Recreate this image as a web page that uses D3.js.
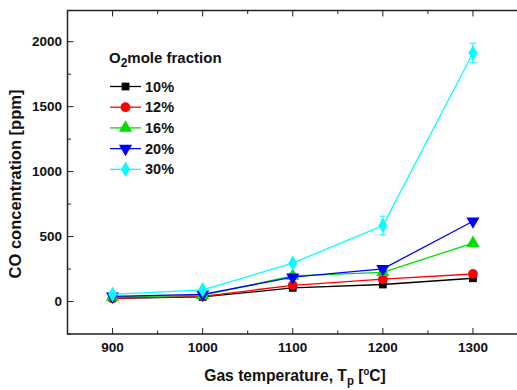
<!DOCTYPE html>
<html>
<head>
<meta charset="utf-8">
<script src="https://cdn.jsdelivr.net/npm/d3@7"></script>
<style>
  body { margin: 0; background: #fff; }
  text { font-family: "Liberation Sans", Arial, sans-serif; font-weight: bold; }
</style>
</head>
<body>
<div id="chart"></div>
<script>
const temperatures = [900, 1000, 1100, 1200, 1300];
const seriesNames = ["10%", "12%", "16%", "20%", "30%"];
const co10 = [25, 35, 105, 131, 179];
const co12 = [25, 40, 125, 172, 212];
const co16 = [35, 48, 197, 225, 449];
const co20 = [40, 55, 187, 251, 618];
const co30 = [55, 90, 295, 585, 1913];
const err10 = [0, 0, 0, 0, 0];
const err12 = [0, 0, 0, 0, 0];
const err16 = [0, 0, 20, 0, 0];
const err20 = [0, 0, 0, 15, 0];
const err30 = [0, 0, 0, 72, 75];
const xTicks = [900, 1000, 1100, 1200, 1300];
const yTicks = [0, 500, 1000, 1500, 2000];

const colors = ["#000000", "#ff0000", "#00dd00", "#0000ff", "#00ffff"];
const symbols = [d3.symbolSquare, d3.symbolCircle, d3.symbolTriangle, "down", d3.symbolDiamond];

const series = [co10, co12, co16, co20, co30].map((vals, i) => ({
  name: seriesNames[i],
  color: colors[i],
  symbol: symbols[i],
  points: vals.map((v, j) => ({ t: temperatures[j], v: v, e: [err10, err12, err16, err20, err30][i][j] }))
}));

const W = 517, H = 390;
const plotLeft = 67.5, plotTop = 10.5, plotRight = 518, plotBottom = 334;

const svg = d3.select("#chart").append("svg")
  .attr("width", W).attr("height", H);

const x = d3.scaleLinear().domain([850, 1350]).range([plotLeft, plotRight]);
const y = d3.scaleLinear().domain([-250, 2240]).range([plotBottom, plotTop]);

// frame
svg.append("rect")
  .attr("x", plotLeft).attr("y", plotTop)
  .attr("width", plotRight - plotLeft).attr("height", plotBottom - plotTop)
  .attr("fill", "none").attr("stroke", "#222").attr("stroke-width", 1.5);

// ticks (inward)
const minorX = d3.range(850, 1351, 50);
const minorY = d3.range(-250, 2240, 250);
minorX.forEach(t => {
  const major = xTicks.includes(t);
  const len = major ? 6 : 3.5;
  svg.append("line").attr("x1", x(t)).attr("x2", x(t)).attr("y1", plotBottom).attr("y2", plotBottom - len)
    .attr("stroke", "#222").attr("stroke-width", 1);
  svg.append("line").attr("x1", x(t)).attr("x2", x(t)).attr("y1", plotTop).attr("y2", plotTop + len)
    .attr("stroke", "#222").attr("stroke-width", 1);
});
minorY.forEach(v => {
  const major = yTicks.includes(v);
  const len = major ? 6 : 3.5;
  svg.append("line").attr("x1", plotLeft).attr("x2", plotLeft + len).attr("y1", y(v)).attr("y2", y(v))
    .attr("stroke", "#222").attr("stroke-width", 1);
});

// tick labels
svg.selectAll(".xlab").data(xTicks).join("text")
  .attr("x", d => x(d)).attr("y", 352)
  .attr("text-anchor", "middle").attr("font-size", 13.5).attr("fill", "#111")
  .text(d => d);
svg.selectAll(".ylab").data(yTicks).join("text")
  .attr("x", 62).attr("y", d => y(d) + 4.5)
  .attr("text-anchor", "end").attr("font-size", 13.5).attr("fill", "#111")
  .text(d => d);

// axis titles
const xt = svg.append("g").attr("transform", "translate(295,381) scale(0.95,1)")
  .append("text")
  .attr("text-anchor", "middle").attr("font-size", 16.5).attr("fill", "#111");
xt.append("tspan").text("Gas temperature, T");
xt.append("tspan").attr("font-size", 12).attr("dy", 4).text("p");
xt.append("tspan").attr("dy", -4).text(" [");
xt.append("tspan").attr("font-size", 10).attr("dy", -6).text("o");
xt.append("tspan").attr("dy", 6).text("C]");

svg.append("text")
  .attr("transform", `translate(21,${184}) rotate(-90)`)
  .attr("text-anchor", "middle").attr("font-size", 16.5).attr("fill", "#111")
  .text("CO concentration [ppm]");

function markerPath(sym, size) {
  if (sym === "down") {
    return d3.symbol(d3.symbolTriangle, size)();
  }
  return d3.symbol(sym, size)();
}
function markerTransform(sym, px, py) {
  return sym === "down" ? `translate(${px},${py}) rotate(180)` : `translate(${px},${py})`;
}
const markerSize = s => s === d3.symbolSquare ? 60 : s === d3.symbolDiamond ? 70 : 75;

const line = d3.line().x(d => x(d.t)).y(d => y(d.v));

series.forEach(s => {
  const g = svg.append("g");
  g.append("path").datum(s.points).attr("d", line)
    .attr("fill", "none").attr("stroke", s.color).attr("stroke-width", 1.3);
  s.points.filter(p => p.e > 0).forEach(p => {
    g.append("line").attr("x1", x(p.t)).attr("x2", x(p.t))
      .attr("y1", y(p.v - p.e)).attr("y2", y(p.v + p.e))
      .attr("stroke", s.color).attr("stroke-width", 1);
    [p.v - p.e, p.v + p.e].forEach(v => {
      g.append("line").attr("x1", x(p.t) - 3.5).attr("x2", x(p.t) + 3.5)
        .attr("y1", y(v)).attr("y2", y(v))
        .attr("stroke", s.color).attr("stroke-width", 1);
    });
  });
  g.selectAll("path.m").data(s.points).join("path")
    .attr("class", "m")
    .attr("d", markerPath(s.symbol, markerSize(s.symbol)))
    .attr("transform", d => markerTransform(s.symbol, x(d.t), y(d.v)))
    .attr("fill", s.color);
});

// legend
const lt = svg.append("text").attr("x", 109).attr("y", 63)
  .attr("font-size", 15).attr("fill", "#111");
lt.append("tspan").text("O");
lt.append("tspan").attr("font-size", 12).attr("dy", 4).text("2");
lt.append("tspan").attr("dy", -4).text("mole fraction");

series.forEach((s, i) => {
  const ly = 86.5 + i * 20.7;
  svg.append("line").attr("x1", 110).attr("x2", 141).attr("y1", ly).attr("y2", ly)
    .attr("stroke", s.color).attr("stroke-width", 1.3);
  svg.append("path")
    .attr("d", markerPath(s.symbol, markerSize(s.symbol)))
    .attr("transform", markerTransform(s.symbol, 125.5, ly))
    .attr("fill", s.color);
  svg.append("text").attr("x", 145).attr("y", ly + 5)
    .attr("font-size", 14.5).attr("fill", "#111").text(s.name);
});
</script>
</body>
</html>
